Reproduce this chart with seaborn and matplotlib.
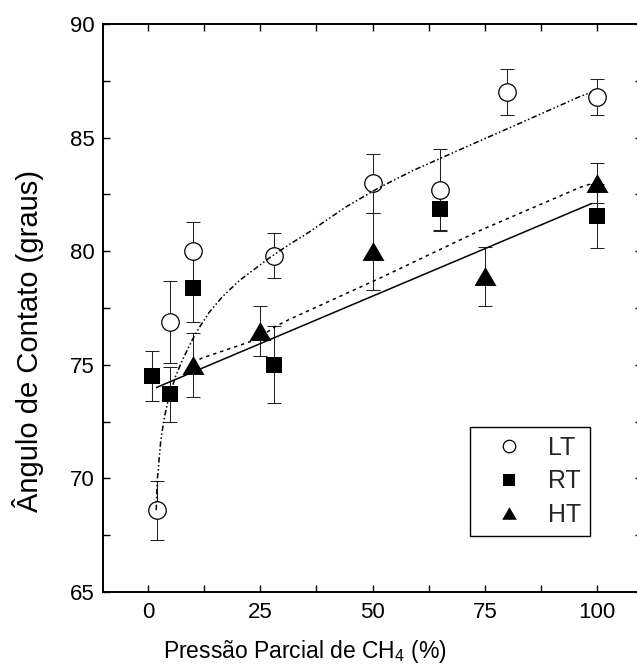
import numpy as np
import matplotlib
matplotlib.use("Agg")
import matplotlib.pyplot as plt
from matplotlib.lines import Line2D
from matplotlib.markers import MarkerStyle
from matplotlib.path import Path
from matplotlib.ticker import MultipleLocator
import seaborn as sns

# Contact angle vs CH4 partial pressure, three deposition temperatures
pressure_lt = [2, 5, 10, 28, 50, 65, 80, 100]
angle_lt = [68.6, 76.9, 80.0, 79.8, 83.0, 82.7, 87.0, 86.8]
err_lt = [1.3, 1.8, 1.3, 1.0, 1.3, 1.8, 1.0, 0.8]

pressure_rt = [1, 5, 10, 28, 65, 100]
angle_rt = [74.5, 73.7, 78.4, 75.0, 81.85, 81.55]
err_rt = [1.1, 1.2, 1.5, 1.7, 0.9, 1.4]

pressure_ht = [10, 25, 50, 75, 100]
angle_ht = [75.0, 76.5, 80.0, 78.9, 83.0]
err_ht = [1.4, 1.1, 1.7, 1.3, 0.9]

# Fitted trend curves
fit_lt_x = [1.85, 2.08, 2.83, 3.57, 4.68, 6.18, 7.65, 9.88, 11.0, 13.6, 16.6,
            20.3, 24.0, 27.0, 31.5, 35.2, 37.8, 44.1, 51.5, 59.0, 66.4, 73.8,
            81.3, 88.7, 96.1, 98.7]
fit_lt_y = [68.6, 69.9, 71.6, 72.6, 73.6, 74.5, 75.2, 76.1, 76.5, 77.3, 78.0,
            78.7, 79.25, 79.7, 80.3, 80.75, 81.1, 81.95, 82.8, 83.55, 84.2,
            84.85, 85.5, 86.15, 86.8, 87.0]
fit_rt_x = [1.9, 98.8]
fit_rt_y = [74.0, 82.1]
fit_ht_x = [10, 12.1, 24.0, 28.5, 31.5, 51.5, 73.8, 96.1, 98.4]
fit_ht_y = [75.1, 75.3, 76.1, 76.7, 77.0, 78.8, 80.9, 82.8, 82.95]

legend_labels = ["LT", "RT", "HT"]

sns.set_style("ticks")
plt.rcParams["font.family"] = ["Liberation Sans", "DejaVu Sans"]
plt.rcParams["mathtext.fontset"] = "custom"
plt.rcParams["mathtext.rm"] = "Liberation Sans"

W, H = 637, 671
fig = plt.figure(figsize=(W / 100, H / 100), dpi=100)
left, right, top, bottom = 103, 642, 24, 592
ax = fig.add_axes([left / W, (H - bottom) / H, (right - left) / W, (bottom - top) / H])

tri = MarkerStyle(Path([(0, 0.86), (-1, -0.86), (1, -0.86), (0, 0.86)],
                       [Path.MOVETO, Path.LINETO, Path.LINETO, Path.CLOSEPOLY]))

# error bars
for xs, ys, es in [(pressure_lt, angle_lt, err_lt),
                   (pressure_rt, angle_rt, err_rt),
                   (pressure_ht, angle_ht, err_ht)]:
    ax.errorbar(xs, ys, yerr=es, fmt="none", ecolor="#222222", elinewidth=0.75,
                capsize=4.7, capthick=0.75, zorder=2)

# markers
sns.scatterplot(x=pressure_lt, y=angle_lt, ax=ax, marker="o", s=12.6 ** 2,
                color="white", edgecolor="black", linewidth=0.9, zorder=3)
sns.scatterplot(x=pressure_rt, y=angle_rt, ax=ax, marker="s", s=11.5 ** 2,
                color="black", edgecolor="black", linewidth=0, zorder=3)
sns.scatterplot(x=pressure_ht, y=angle_ht, ax=ax, marker=tri, s=15.8 ** 2,
                color="black", edgecolor="black", linewidth=0, zorder=3)

# trend lines
sns.lineplot(x=fit_lt_x, y=fit_lt_y, ax=ax, sort=False, estimator=None,
             color="black", lw=1.1, zorder=4)
ax.lines[-1].set_dashes([3.6, 1.6, 1.0, 1.6, 1.0, 1.6])
sns.lineplot(x=fit_rt_x, y=fit_rt_y, ax=ax, sort=False, estimator=None,
             color="black", lw=1.1, zorder=4)
sns.lineplot(x=fit_ht_x, y=fit_ht_y, ax=ax, sort=False, estimator=None,
             color="black", lw=1.1, zorder=4)
ax.lines[-1].set_dashes([2.2, 2.6])

ax.set_xlim(-10, 110)
ax.set_ylim(65, 90)
ax.xaxis.set_major_locator(MultipleLocator(25))
ax.xaxis.set_minor_locator(MultipleLocator(12.5))
ax.yaxis.set_major_locator(MultipleLocator(5))
ax.yaxis.set_minor_locator(MultipleLocator(2.5))
for which in ("major", "minor"):
    ax.tick_params(axis="both", which=which, direction="in", length=5, width=1.0,
                   top=True, right=True, color="black")
ax.tick_params(axis="x", which="major", labelsize=16, pad=7, labelcolor="black")
ax.tick_params(axis="y", which="major", labelsize=16, pad=6, labelcolor="black")
for sp in ax.spines.values():
    sp.set_visible(True)
    sp.set_linewidth(1.4)
    sp.set_color("black")

ax.set_xlabel(r"Pressão Parcial de CH$_4$ (%)", fontsize=16.5, color="black")
ax.xaxis.label.set_verticalalignment("baseline")
ax.xaxis.set_label_coords((305 - left) / (right - left), -(658 - bottom) / (bottom - top))
ax.set_ylabel("Ângulo de Contato (graus)", fontsize=21, color="black")
ax.yaxis.set_label_coords(-(103 - 28) / (right - left), (bottom - 341) / (bottom - top))
ax.yaxis.label.set_verticalalignment("center")

handles = [
    Line2D([], [], ls="none", marker="o", ms=9, mfc="white", mec="black", mew=0.9),
    Line2D([], [], ls="none", marker="s", ms=8.8, mfc="black", mec="black", mew=0),
    Line2D([], [], ls="none", marker=tri, ms=10.5, mfc="black", mec="black", mew=0),
]
leg = ax.legend(handles, legend_labels, loc="upper left",
                bbox_to_anchor=((470 - left) / (right - left), (bottom - 427) / (bottom - top)),
                borderaxespad=0, fontsize=18, frameon=True, fancybox=False,
                borderpad=0.35, handlelength=2.44, handletextpad=0.34,
                labelspacing=0.38, edgecolor="black", framealpha=1)
leg.get_frame().set_linewidth(1.0)

fig.savefig("out.png", dpi=100)
